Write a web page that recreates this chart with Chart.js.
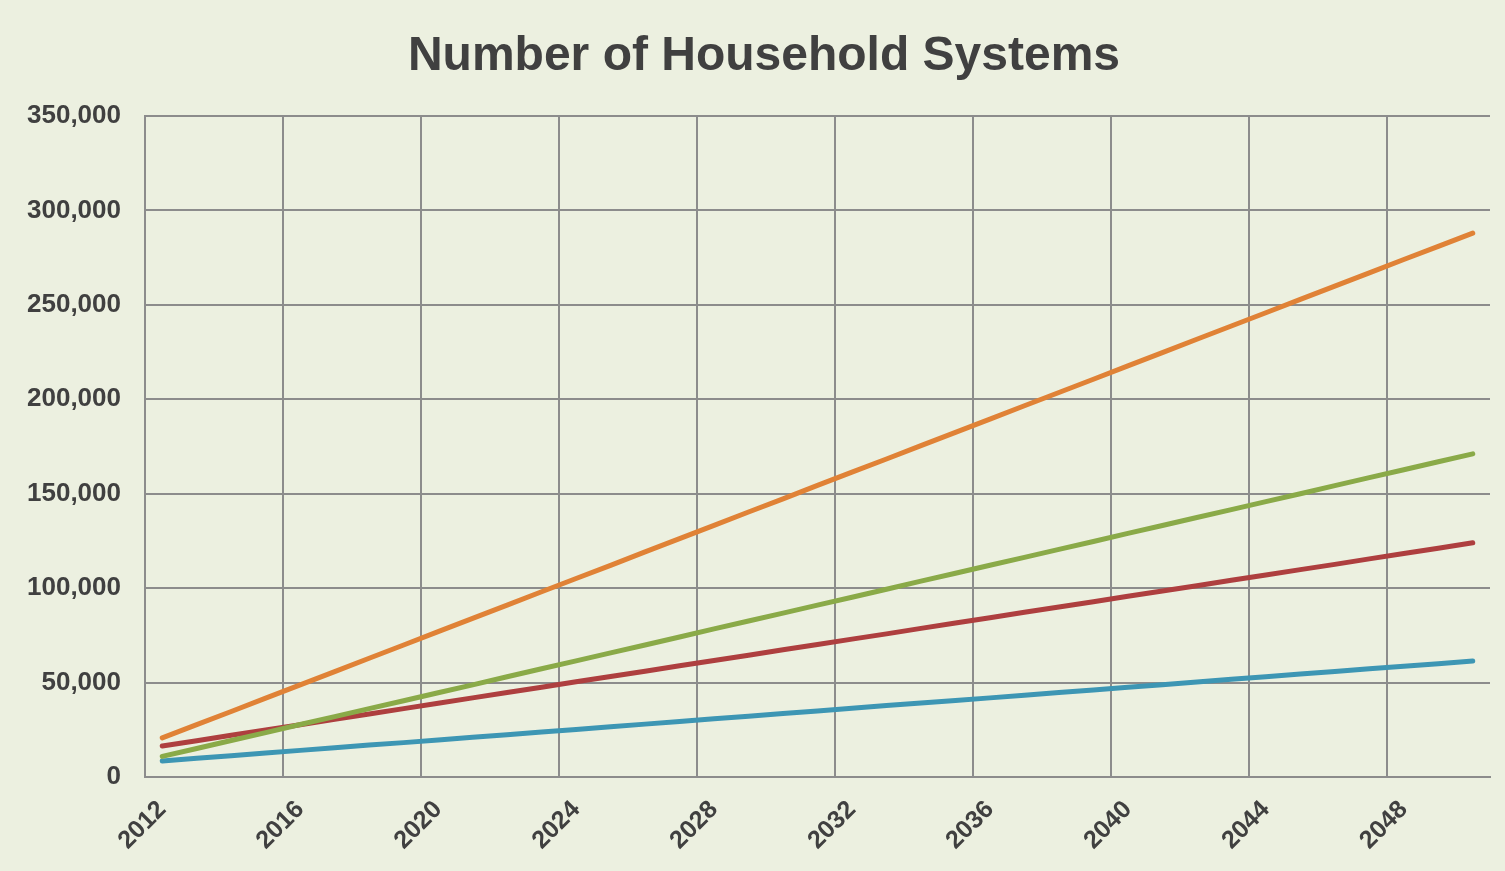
<!DOCTYPE html>
<html>
<head>
<meta charset="utf-8">
<title>Number of Household Systems</title>
<script src="https://cdn.jsdelivr.net/npm/chart.js@4.4.1/dist/chart.umd.min.js"></script>
<style>
  html, body { margin: 0; padding: 0; background: #ECF0E0; }
  #wrap { width: 1505px; height: 871px; position: relative; }
</style>
</head>
<body>
<div id="wrap"><canvas id="householdChart"></canvas></div>
<script>
// years on the category axis
const years = [];
for (let y = 2012; y <= 2050; y++) years.push(String(y));

// values (roughly straight lines)
const orangeSeries = [
  20700, 27700, 34700, 41800, 48800, 55800, 62900, 69900, 77000, 84000,
  91000, 98100, 105100, 112100, 119200, 126200, 133200, 140300, 147300, 154400,
  161400, 168400, 175500, 182500, 189500, 196600, 203600, 210600, 217700, 224700,
  231800, 238800, 245800, 252900, 259900, 266900, 274000, 281000, 288000
];
const greenSeries = [
  10900, 15100, 19300, 23500, 27800, 32000, 36200, 40400, 44600, 48800,
  53100, 57300, 61500, 65700, 69900, 74100, 78400, 82600, 86800, 91000,
  95200, 99400, 103700, 107900, 112100, 116300, 120500, 124700, 129000, 133200,
  137400, 141600, 145800, 150000, 154300, 158500, 162700, 166900, 171100
];
const redSeries = [
  16400, 19200, 22100, 24900, 27700, 30600, 33400, 36200, 39000, 41900,
  44700, 47500, 50400, 53200, 56000, 58900, 61700, 64500, 67400, 70200,
  73000, 75800, 78700, 81500, 84300, 87200, 90000, 92800, 95700, 98500,
  101300, 104200, 107000, 109800, 112600, 115500, 118300, 121100, 124000
];
const blueSeries = [
  8500, 9900, 11300, 12700, 14100, 15500, 16900, 18200, 19600, 21000,
  22400, 23800, 25200, 26600, 28000, 29400, 30800, 32200, 33600, 35000,
  36400, 37800, 39200, 40500, 41900, 43300, 44700, 46100, 47500, 48900,
  50300, 51700, 53100, 54500, 55900, 57300, 58700, 60000, 61400
];
const yTicks = [0, 50000, 100000, 150000, 200000, 250000, 300000, 350000];
const chartTitle = 'Number of Household Systems';

const gridGrey = '#8C8C8C';
const textGrey = '#404040';
const fontFamily = 'Liberation Sans, Arial, sans-serif';

// background + title (title sits off-centre in the original, so draw it by hand)
const framePlugin = {
  id: 'frame',
  beforeDraw(chart) {
    const c = chart.ctx;
    c.save();
    c.fillStyle = '#ECF0E0';
    c.fillRect(0, 0, chart.width, chart.height);
    c.restore();
  },
  afterDraw(chart) {
    const c = chart.ctx;
    c.save();
    c.fillStyle = textGrey;
    c.font = 'bold 48px ' + fontFamily;
    c.textAlign = 'center';
    c.textBaseline = 'middle';
    c.fillText(chartTitle, 764, 57);
    c.restore();
  }
};

function line(label, data, color) {
  return {
    label: label,
    data: data,
    borderColor: color,
    backgroundColor: color,
    borderWidth: 5,
    borderCapStyle: 'round',
    pointRadius: 0,
    tension: 0,
    fill: false
  };
}

new Chart(document.getElementById('householdChart'), {
  type: 'line',
  data: {
    labels: years,
    datasets: [
      line('Series 1', orangeSeries, '#E08236'),
      line('Series 2', greenSeries, '#8AAA48'),
      line('Series 3', redSeries, '#AE3F3F'),
      line('Series 4', blueSeries, '#3D96B4')
    ]
  },
  plugins: [framePlugin],
  options: {
    responsive: true,
    maintainAspectRatio: false,
    animation: false,
    layout: { padding: { left: 0, right: 15, top: 116, bottom: 0 } },
    plugins: {
      legend: { display: false },
      tooltip: { enabled: false },
      title: { display: false }
    },
    scales: {
      x: {
        type: 'category',
        offset: true,
        grid: {
          offset: true,
          drawTicks: false,
          lineWidth: 2,
          color: ctx => (ctx.index % 4 === 0 ? gridGrey : 'rgba(0,0,0,0)')
        },
        border: { display: true, color: gridGrey, width: 2 },
        ticks: {
          autoSkip: false,
          minRotation: 45,
          maxRotation: 45,
          padding: 18,
          color: textGrey,
          font: { family: fontFamily, size: 25, weight: 'bold' },
          callback: function (value, index) {
            return index % 4 === 0 ? this.getLabelForValue(value) : '';
          }
        },
        afterFit: scale => {
          scale.height = 94;
          scale.paddingLeft = 0;
          scale.paddingRight = 0;
        }
      },
      y: {
        min: 0,
        max: 350000,
        afterBuildTicks: scale => { scale.ticks = yTicks.map(v => ({ value: v })); },
        grid: { drawTicks: false, lineWidth: 2, color: gridGrey },
        border: { display: true, color: gridGrey, width: 2 },
        ticks: {
          padding: 24,
          color: textGrey,
          font: { family: fontFamily, size: 26, weight: 'bold' },
          callback: v => v.toLocaleString('en-US')
        },
        afterFit: scale => { scale.width = 145; }
      }
    }
  }
});
</script>
</body>
</html>
